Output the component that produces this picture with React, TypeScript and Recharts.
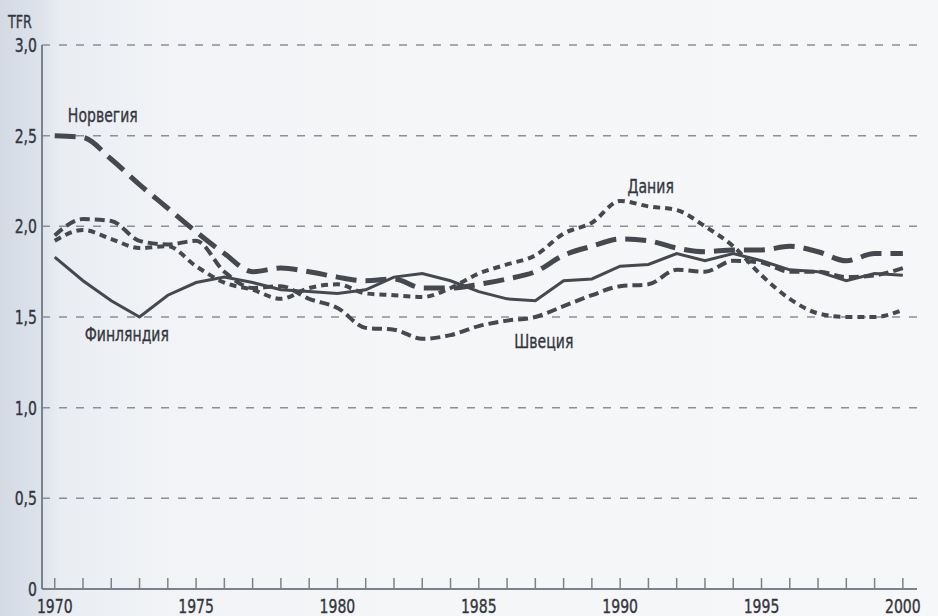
import React from "react";
import { LineChart, Line, XAxis, YAxis, CartesianGrid, ReferenceDot } from "recharts";

const years = [1970,1971,1972,1973,1974,1975,1976,1977,1978,1979,1980,1981,1982,1983,1984,1985,1986,1987,1988,1989,1990,1991,1992,1993,1994,1995,1996,1997,1998,1999,2000];
const finland = [1.83,1.70,1.59,1.50,1.62,1.69,1.72,1.69,1.65,1.64,1.63,1.65,1.72,1.74,1.70,1.64,1.60,1.59,1.70,1.71,1.78,1.79,1.85,1.81,1.85,1.81,1.76,1.75,1.70,1.74,1.73];
const norway = [2.50,2.49,2.37,2.23,2.10,1.97,1.85,1.75,1.77,1.75,1.72,1.70,1.71,1.66,1.66,1.68,1.71,1.75,1.84,1.89,1.93,1.92,1.88,1.86,1.87,1.87,1.89,1.86,1.81,1.85,1.85];
const peakCurve = [1.92,1.98,1.93,1.88,1.89,1.78,1.69,1.65,1.60,1.66,1.68,1.63,1.62,1.61,1.66,1.74,1.79,1.84,1.96,2.02,2.14,2.11,2.09,2.00,1.89,1.73,1.60,1.52,1.50,1.50,1.54];
const lowCurve = [1.95,2.04,2.03,1.92,1.90,1.92,1.75,1.66,1.67,1.60,1.55,1.44,1.43,1.38,1.40,1.45,1.48,1.50,1.56,1.62,1.67,1.68,1.76,1.75,1.81,1.80,1.75,1.75,1.72,1.73,1.77];
const yTicks = [0, 0.5, 1.0, 1.5, 2.0, 2.5, 3.0];
const yTickLabels = ["0", "0,5", "1,0", "1,5", "2,0", "2,5", "3,0"];
const seriesLabels = [
  { text: "Норвегия", year: 1971.7, value: 2.615 },
  { text: "Финляндия", year: 1972.55, value: 1.405 },
  { text: "Швеция", year: 1987.3, value: 1.37 },
  { text: "Дания", year: 1991.08, value: 2.22 },
];
const axisTitle = "TFR";

const data = years.map((y, i) => ({
  year: y,
  finland: finland[i],
  norway: norway[i],
  peak: peakCurve[i],
  low: lowCurve[i],
}));

const FONT = "'DejaVu Sans Condensed', 'Liberation Sans Narrow', sans-serif";
const LINE = "#45484f";
const TEXT = "#33363d";
const AXIS = "#7c828c";
const SX = 0.78;

const NText = ({ x, y, anchor, children, size = 20 }: any) => (
  <text
    transform={`translate(${x},${y}) scale(${SX},1)`}
    x={0}
    y={0}
    textAnchor={anchor}
    fill={TEXT}
    fontSize={size}
    fontFamily={FONT}
    stroke={TEXT}
    strokeWidth={0.35}
  >
    {children}
  </text>
);

const XTick = (props: any) => {
  const { x, y, payload } = props;
  const yr = payload.value;
  return (
    <g>
      <line x1={x} x2={x} y1={y} y2={y - 11} stroke={AXIS} strokeWidth={1.5} />
      {yr % 5 === 0 && (
        <NText x={x} y={y + 24} anchor="middle" size={20}>
          {yr}
        </NText>
      )}
    </g>
  );
};

const YTick = (props: any) => {
  const { y, payload } = props;
  const idx = yTicks.indexOf(payload.value);
  return (
    <NText x={37} y={y + 7} anchor="end" size={20}>
      {yTickLabels[idx]}
    </NText>
  );
};

const SeriesLabel = (text: string) => (props: any) => {
  const vb = props.viewBox || {};
  const cx = (vb.x || 0) + (vb.width || 0) / 2;
  const cy = (vb.y || 0) + (vb.height || 0) / 2;
  return (
    <NText x={cx} y={cy + 7} anchor="middle" size={20}>
      {text}
    </NText>
  );
};

export default function App() {
  return (
    <div
      style={{
        position: "absolute",
        left: 0,
        top: 0,
        width: 938,
        height: 616,
        background:
          "linear-gradient(to right, #d3dae4 0px, #dde3eb 40px, #e9edf2 60px, #f1f3f6 160px, #f5f6f8 400px, #f6f7f8 938px)",
      }}
    >
      <svg width={60} height={34} style={{ position: "absolute", left: 0, top: 0 }}>
        <NText x={8} y={28} anchor="start" size={18}>
          {axisTitle}
        </NText>
      </svg>
      <div style={{ position: "absolute", left: 0, top: 0 }}>
        <LineChart
          width={938}
          height={616}
          data={data}
          margin={{ top: 45, right: 21, bottom: 0, left: 0 }}
        >
          <CartesianGrid
            horizontal={true}
            vertical={false}
            stroke="#8a8f98"
            strokeWidth={1.5}
            strokeDasharray="8 9"
          />
          <XAxis
            dataKey="year"
            type="number"
            domain={[1969.55, 2000.5]}
            ticks={years}
            interval={0}
            height={27}
            tickSize={0}
            tickMargin={0}
            tickLine={false}
            axisLine={{ stroke: AXIS, strokeWidth: 2 }}
            tick={<XTick />}
          />
          <YAxis
            type="number"
            domain={[0, 3]}
            ticks={yTicks}
            interval={0}
            width={42}
            tickLine={false}
            axisLine={{ stroke: AXIS, strokeWidth: 2 }}
            tick={<YTick />}
          />
          <Line
            dataKey="low"
            type="monotone"
            stroke={LINE}
            strokeWidth={4}
            strokeDasharray="10 5"
            dot={false}
            isAnimationActive={false}
          />
          <Line
            dataKey="peak"
            type="monotone"
            stroke={LINE}
            strokeWidth={4}
            strokeDasharray="7 5"
            dot={false}
            isAnimationActive={false}
          />
          <Line
            dataKey="norway"
            type="monotone"
            stroke={LINE}
            strokeWidth={5}
            strokeDasharray="21 9"
            dot={false}
            isAnimationActive={false}
          />
          <Line
            dataKey="finland"
            type="linear"
            stroke={LINE}
            strokeWidth={3}
            dot={false}
            isAnimationActive={false}
          />
          {seriesLabels.map((l) => (
            <ReferenceDot
              key={l.text}
              x={l.year}
              y={l.value}
              r={0}
              stroke="none"
              fill="none"
              label={SeriesLabel(l.text)}
            />
          ))}
        </LineChart>
      </div>
    </div>
  );
}
